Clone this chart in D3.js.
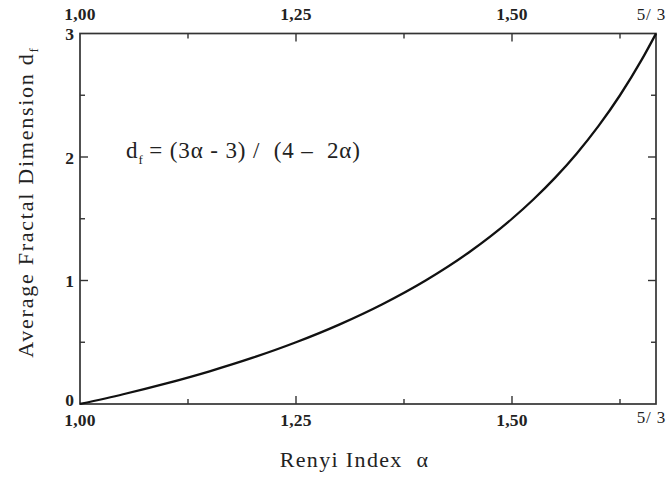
<!DOCTYPE html>
<html>
<head>
<meta charset="utf-8">
<script src="https://cdn.jsdelivr.net/npm/d3@7"></script>
<style>
  html, body { margin: 0; padding: 0; background: #fff; }
  svg { display: block; }
  text { font-family: "Liberation Serif", "DejaVu Serif", serif; fill: #222; }
</style>
</head>
<body>
<svg id="chart" width="666" height="477"></svg>
<script>
// Renyi index alpha and the corresponding average fractal dimension d_f
const alphaValues = [1.00, 1.05, 1.10, 1.15, 1.20, 1.25, 1.30, 1.35, 1.40, 1.45, 1.50, 1.525, 1.55, 1.575, 1.60, 1.625, 1.65, 1.6667];
const dfValues    = [0, 0.079, 0.167, 0.265, 0.375, 0.500, 0.643, 0.808, 1.000, 1.227, 1.500, 1.658, 1.833, 2.029, 2.250, 2.500, 2.786, 3.000];

// axis ticks
const xMajorTicks = [1.00, 1.25, 1.50, 5 / 3];
const xTickLabels = ["1,00", "1,25", "1,50", "5/ 3"];
const xMinorTicks = [1.125, 1.375, 1.625];
const yMajorTicks = [0, 1, 2, 3];
const yTickLabels = ["0", "1", "2", "3"];
const yMinorTicks = [0.5, 1.5, 2.5];

const svg = d3.select("#chart");
const margin = { left: 80, right: 10, top: 33.5, bottom: 73 };
const W = 666, H = 477;

const x = d3.scaleLinear().domain([1, 5 / 3]).range([margin.left, W - margin.right]);
const y = d3.scaleLinear().domain([0, 3]).range([H - margin.bottom, margin.top]);

const axisColor = "#333";
const majorLen = 8, minorLen = 5;

// frame
svg.append("rect")
  .attr("x", x(1)).attr("y", y(3))
  .attr("width", x(5 / 3) - x(1)).attr("height", y(0) - y(3))
  .attr("fill", "none").attr("stroke", axisColor).attr("stroke-width", 1.7);

// inward ticks on all four sides
function ticks(vals, len) {
  const g = svg.append("g").attr("stroke", axisColor).attr("stroke-width", 1.4);
  vals.forEach(v => {
    g.append("line").attr("x1", x(v)).attr("x2", x(v)).attr("y1", y(0)).attr("y2", y(0) - len);
    g.append("line").attr("x1", x(v)).attr("x2", x(v)).attr("y1", y(3)).attr("y2", y(3) + len);
  });
}
function yticks(vals, len) {
  const g = svg.append("g").attr("stroke", axisColor).attr("stroke-width", 1.4);
  vals.forEach(v => {
    g.append("line").attr("y1", y(v)).attr("y2", y(v)).attr("x1", x(1)).attr("x2", x(1) + len);
    g.append("line").attr("y1", y(v)).attr("y2", y(v)).attr("x1", x(5 / 3)).attr("x2", x(5 / 3) - len);
  });
}
ticks(xMajorTicks.slice(1, 3), majorLen);
ticks(xMinorTicks, minorLen);
yticks(yMajorTicks.slice(1, 3), majorLen);
yticks(yMinorTicks, minorLen);

// tick labels: bottom and top
xMajorTicks.forEach((v, i) => {
  const isFrac = i === 3;
  [[y(0) + 22, y(0) + 19], [20, 20]].forEach(([yb, yf]) => {
    svg.append("text")
      .attr("x", isFrac ? x(v) + 10 : x(v))
      .attr("y", isFrac ? yf : yb)
      .attr("text-anchor", isFrac ? "end" : "middle")
      .attr("font-size", isFrac ? 17 : 17.5)
      .attr("font-weight", isFrac ? "normal" : "bold")
      .attr("letter-spacing", isFrac ? 0.8 : 0.2)
      .text(xTickLabels[i]);
  });
});

// tick labels: left
yMajorTicks.forEach((v, i) => {
  svg.append("text")
    .attr("x", x(1) - 6)
    .attr("y", v === 0 ? y(v) + 2 : y(v) + 6.5)
    .attr("text-anchor", "end")
    .attr("font-size", 17.5)
    .attr("font-weight", "bold")
    .text(yTickLabels[i]);
});

// curve
const pts = alphaValues.map((a, i) => [a, dfValues[i]]);
svg.append("path")
  .datum(pts)
  .attr("fill", "none")
  .attr("stroke", "#111")
  .attr("stroke-width", 2.3)
  .attr("d", d3.line().x(d => x(d[0])).y(d => y(d[1])).curve(d3.curveMonotoneX));

// axis titles
svg.append("text")
  .attr("x", (277 + 432) / 2).attr("y", 467)
  .attr("text-anchor", "middle")
  .attr("font-size", 22)
  .attr("letter-spacing", 1.35)
  .text("Renyi Index \u00a0\u03b1");

const yTitle = svg.append("text")
  .attr("transform", "translate(33,202) rotate(-90)")
  .attr("text-anchor", "middle")
  .attr("font-size", 22)
  .attr("letter-spacing", 1.75);
yTitle.append("tspan").text("Average Fractal Dimension d");
yTitle.append("tspan").attr("font-size", 13).attr("dy", 5).text("f");

// formula annotation
const f = svg.append("text")
  .attr("x", 126).attr("y", 158)
  .attr("font-size", 23)
  .attr("letter-spacing", 0.9);
f.append("tspan").text("d");
f.append("tspan").attr("font-size", 13).attr("dy", 6).text("f");
f.append("tspan").attr("dy", -6).text("\u2009= (3\u03b1 - 3) /  \u00a0(4 \u2013 \u00a02\u03b1)");
</script>
</body>
</html>
